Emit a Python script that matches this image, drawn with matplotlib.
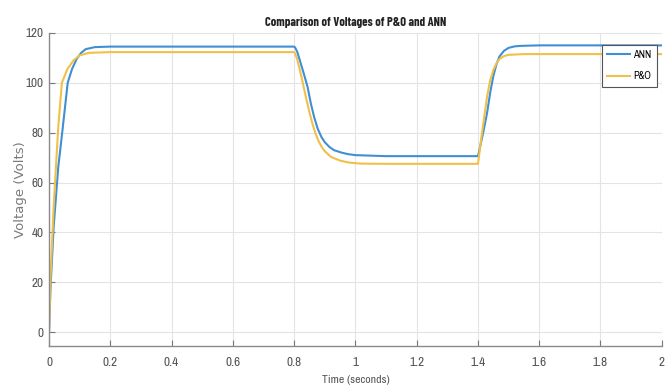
import matplotlib
matplotlib.use('Agg')
import matplotlib.pyplot as plt

# values
t_ann = [0, 0.005, 0.015, 0.03, 0.043, 0.061, 0.075, 0.09, 0.105, 0.12, 0.15, 0.2, 0.4, 0.8,
         0.803, 0.81, 0.82, 0.832, 0.844, 0.855, 0.866, 0.877, 0.889, 0.9, 0.915, 0.93,
         0.955, 0.976, 1.0, 1.05, 1.1, 1.4,
         1.403, 1.41, 1.418, 1.43, 1.44, 1.45, 1.46, 1.47, 1.485, 1.5, 1.52, 1.54, 1.6, 1.8, 2.0]
v_ann = [0, 18, 42, 66, 80, 100, 105.5, 109.5, 112, 113.5, 114.3, 114.5, 114.5, 114.5,
         114.2, 112.5, 108.5, 103.5, 98.3, 91.5, 86, 81.6, 78.3, 76.2, 74.3, 73,
         72, 71.4, 71, 70.8, 70.6, 70.6,
         72, 76, 80.5, 88, 96, 102.5, 107.2, 110.5, 112.8, 114, 114.6, 114.8, 115, 115, 115]

t_po = [0, 0.005, 0.015, 0.03, 0.042, 0.06, 0.08, 0.1, 0.13, 0.2, 0.4, 0.8,
        0.803, 0.81, 0.82, 0.83, 0.84, 0.85, 0.86, 0.87, 0.88, 0.89, 0.9, 0.92, 0.95,
        0.98, 1.02, 1.1, 1.4,
        1.403, 1.41, 1.418, 1.43, 1.44, 1.45, 1.46, 1.47, 1.485, 1.5, 1.55, 1.7, 2.0]
v_po = [0, 22, 50, 82, 100, 105.5, 109, 111, 112, 112.3, 112.3, 112.3,
        111.8, 109.5, 104.5, 99, 93.5, 88.2, 83.5, 79.6, 76.6, 74.3, 72.6, 70.3, 68.8,
        68, 67.6, 67.5, 67.5,
        70, 77, 84, 94.5, 101, 105, 107.7, 109.5, 110.7, 111.2, 111.5, 111.5, 111.5]

xticks = [0, 0.2, 0.4, 0.6, 0.8, 1, 1.2, 1.4, 1.6, 1.8, 2]
xticklabels = ['0', '0.2', '0.4', '0.6', '0.8', '1', '1.2', '1.4', '1.6', '1.8', '2']
yticks = [0, 20, 40, 60, 80, 100, 120]

narrow = ['Liberation Sans Narrow', 'Archivo Narrow', 'DejaVu Sans']
narrow_bold = ['Barlow Condensed', 'Asap Condensed', 'DejaVu Sans']

fig = plt.figure(figsize=(6.66, 3.87), dpi=100)
ax = fig.add_axes([0.0736, 0.106, 0.92, 0.809])

ax.plot(t_ann, v_ann, color='#3f8fd4', lw=1.5, label='ANN')
ax.plot(t_po, v_po, color='#f1c04a', lw=1.5, label='P&O')

ax.set_xlim(0, 2)
ax.set_ylim(-5.5, 120)
ax.set_xticks(xticks)
ax.set_xticklabels(xticklabels)
ax.set_yticks(yticks)
ax.grid(True, color='#e4e4e4', lw=0.8)
ax.set_axisbelow(True)

for s in ['top', 'right']:
    ax.spines[s].set_visible(False)
for s in ['left', 'bottom']:
    ax.spines[s].set_color('#8a8a8a')
    ax.spines[s].set_linewidth(1.0)

ax.tick_params(direction='in', length=4, color='#777777', labelcolor='#555555', labelsize=9.5)
ax.tick_params(axis='x', pad=8)
ax.tick_params(axis='y', pad=4)
for lab in ax.get_xticklabels() + ax.get_yticklabels():
    lab.set_family(narrow)

ax.set_title('Comparison of Voltages of P&O and ANN', family=narrow_bold,
             fontweight='bold', fontsize=9, color='#222222', pad=5)
ax.set_xlabel('Time (seconds)', family=narrow, fontsize=8.5, color='#555555', labelpad=5)
ax.set_ylabel('Voltage (Volts)', fontsize=9.5, color='#7a7a7a')
ax.yaxis.set_label_coords(-0.036, 0.5)

leg = ax.legend(loc='upper right', bbox_to_anchor=(0.992, 0.962),
                prop={'family': narrow, 'size': 7.5},
                frameon=True, fancybox=False,
                handlelength=2.2, borderpad=0.5, labelspacing=1.1, handletextpad=0.3,
                borderaxespad=0)
leg.get_frame().set_edgecolor('#555555')
leg.get_frame().set_linewidth(0.8)
leg.get_frame().set_alpha(1)

fig.savefig('out.png', dpi=100)
